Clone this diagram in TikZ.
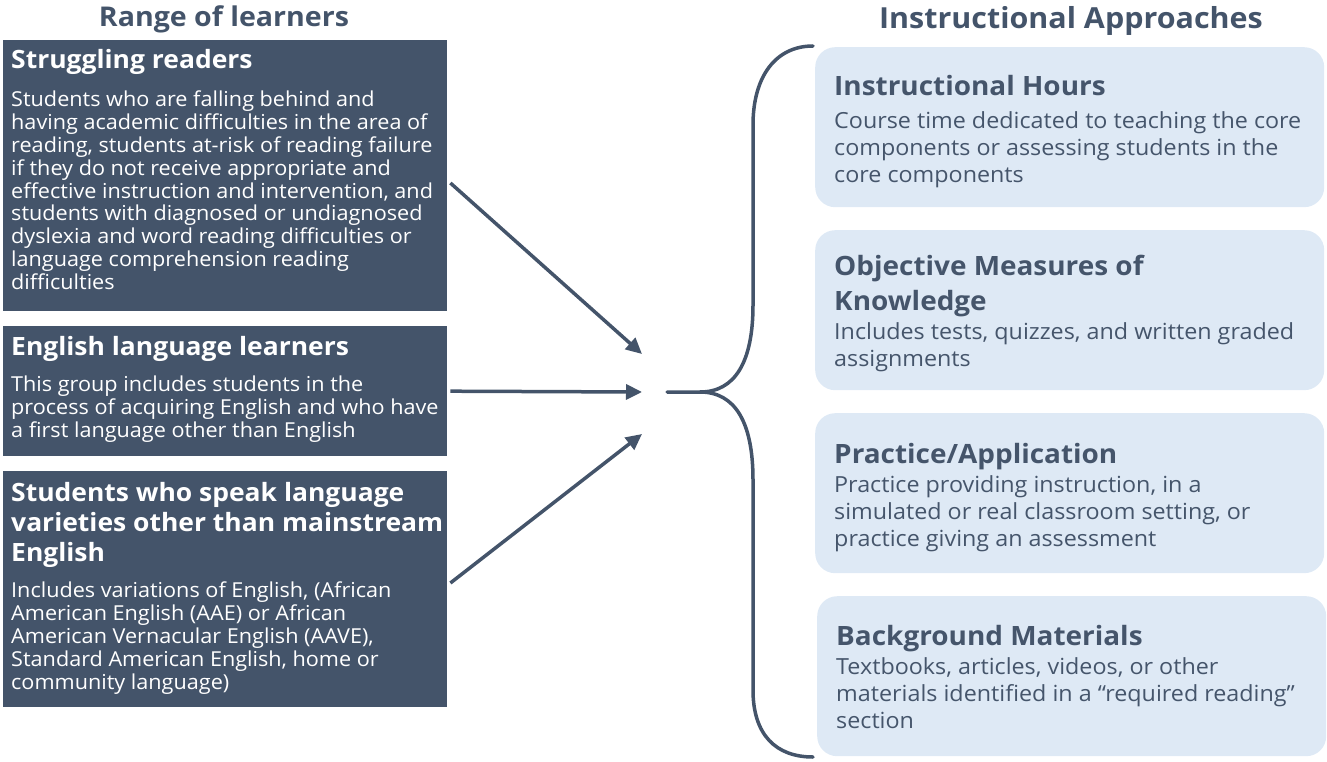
\documentclass[tikz,border=0pt]{standalone}
\usepackage{fontspec}
\setmainfont{Open Sans}[FakeStretch=1.05]
\usetikzlibrary{arrows.meta}
\definecolor{slate}{HTML}{44546A}
\definecolor{lightbox}{HTML}{DEE9F5}
\definecolor{boxtext}{HTML}{45556B}
\tikzset{
  darkbox/.style={fill=slate, draw=none, anchor=north west, inner sep=0pt},
  lightcard/.style={fill=lightbox, draw=none, rounded corners=20pt, anchor=north west, inner sep=0pt},
  lhead/.style={anchor=north west, inner sep=0pt, text=white, font=\fontsize{25.2}{30}\selectfont\bfseries, align=left},
  lbody/.style={anchor=north west, inner sep=0pt, text=white, font=\fontsize{20.6}{22.8}\selectfont, align=left},
  rhead/.style={anchor=north west, inner sep=0pt, text=boxtext, font=\fontsize{26.6}{35}\selectfont\bfseries, align=left},
  rbody/.style={anchor=north west, inner sep=0pt, text=boxtext, font=\fontsize{22.2}{27}\selectfont, align=left},
  title/.style={inner sep=0pt, text=slate, font=\bfseries},
  conn/.style={draw=slate, line width=3.5pt, -{Triangle[length=16pt,width=15pt]}},
  bracestyle/.style={draw=slate, line width=3.5pt, line cap=round}
}
\begin{document}
\begin{tikzpicture}[x=1pt,y=-1pt]
\useasboundingbox (0,0) rectangle (1327,762);
% titles
\node[title, font=\fontsize{27.2}{30}\selectfont\bfseries] (tl) at (224,19) {Range of learners};
\node[title, font=\fontsize{29}{32}\selectfont\bfseries] (tr) at (1071,21) {Instructional Approaches};
% left boxes
\node[darkbox, minimum width=444pt, minimum height=271pt] (b1) at (3,40) {};
\node[darkbox, minimum width=444pt, minimum height=130pt] (b2) at (3,326) {};
\node[darkbox, minimum width=444pt, minimum height=236pt] (b3) at (3,471) {};
\node[lhead] (h1) at (11,49) {Struggling readers};
\node[lbody] (t1) at (11,91) {Students who are falling behind and\\having academic difficulties in the area of\\reading, students at-risk of reading failure\\if they do not receive appropriate and\\effective instruction and intervention, and\\students with diagnosed or undiagnosed\\dyslexia and word reading difficulties or\\language comprehension reading\\difficulties};
\node[lhead] (h2) at (11,336) {English language learners};
\node[lbody] (t2) at (11,376) {This group includes students in the\\process of acquiring English and who have\\a first language other than English};
\node[lhead] (h3) at (11,482) {Students who speak language\\varieties other than mainstream\\English};
\node[lbody] (t3) at (11,582) {Includes variations of English, (African\\American English (AAE) or African\\American Vernacular English (AAVE),\\Standard American English, home or\\community language)};
% right cards
\node[lightcard, minimum width=509pt, minimum height=160pt] (c1) at (815,47) {};
\node[lightcard, minimum width=509pt, minimum height=160pt] (c2) at (815,230) {};
\node[lightcard, minimum width=509pt, minimum height=160pt] (c3) at (815,413) {};
\node[lightcard, minimum width=509pt, minimum height=160pt] (c4) at (817,596) {};
\node[rhead] (rh1) at (834,75) {Instructional Hours};
\node[rbody] (rt1) at (834,111) {Course time dedicated to teaching the core\\components or assessing students in the\\core components};
\node[rhead] (rh2) at (834,255) {Objective Measures of\\Knowledge};
\node[rbody] (rt2) at (834,322) {Includes tests, quizzes, and written graded\\assignments};
\node[rhead] (rh3) at (834,443) {Practice/Application};
\node[rbody] (rt3) at (834,475) {Practice providing instruction, in a\\simulated or real classroom setting, or\\practice giving an assessment};
\node[rhead] (rh4) at (836,625) {Background Materials};
\node[rbody] (rt4) at (836,657) {Textbooks, articles, videos, or other\\materials identified in a “required reading”\\section};
% arrows
\coordinate (e1) at (642,354);
\coordinate (e2) at (642,392);
\coordinate (e3) at (642,434);
\draw[conn] (b1.east |- 0,183) ++(3,0) -- (e1);
\draw[conn] (b2.east) ++(3,0) -- (e2);
\draw[conn] (b3.east |- 0,583) ++(3,0) -- (e3);
% brace
\coordinate (tip) at (667,392);
\draw[bracestyle] (813,46) .. controls (776,46) and (753,76) .. (753,125) -- (753,305) .. controls (753,362) and (735,392) .. (700,392) -- (tip);
\draw[bracestyle] (700,392) .. controls (735,392) and (753,422) .. (753,480) -- (753,690) .. controls (753,735) and (776,757) .. (813,757);
\end{tikzpicture}
\end{document}
